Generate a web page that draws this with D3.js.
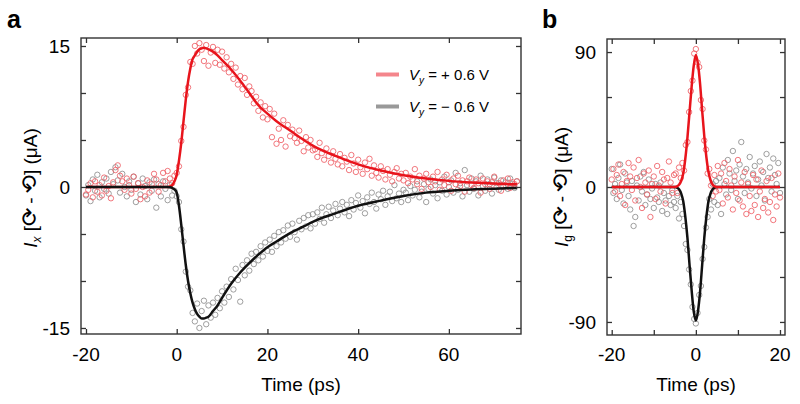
<!DOCTYPE html>
<html><head><meta charset="utf-8">
<script src="https://cdn.jsdelivr.net/npm/d3@7/dist/d3.min.js"></script>
<style>body{margin:0;background:#fff}svg{display:block}text{font-family:"Liberation Sans",Arial,sans-serif;fill:#000}</style>
</head><body><svg id="c" width="800" height="404"></svg>
<script>
// ---------- Panel a data ----------
const timeA = [-20,-19.5,-19,-18.5,-18,-17.5,-17,-16.5,-16,-15.5,-15,-14.5,-14,-13.5,-13,-12.5,-12,-11.5,-11,-10.5,-10,-9.5,-9,-8.5,-8,-7.5,-7,-6.5,-6,-5.5,-5,-4.5,-4,-3.5,-3,-2.5,-2,-1.5,-1,-0.5,
0,0.5,1,1.5,2,2.5,3,3.5,4,4.5,5,5.5,6,6.5,7,7.5,8,8.5,9,9.5,10,
10.5,11,11.5,12,12.5,13,13.5,14,14.5,15,15.5,16,16.5,17,17.5,18,18.5,19,19.5,20,20.5,21,21.5,22,22.5,23,23.5,24,24.5,25,25.5,26,26.5,27,27.5,28,28.5,29,29.5,30,
30.5,31,31.5,32,32.5,33,33.5,34,34.5,35,35.5,36,36.5,37,37.5,38,38.5,39,39.5,40,40.5,41,41.5,42,42.5,43,43.5,44,44.5,45,45.5,46,46.5,47,47.5,48,48.5,49,49.5,50,
50.5,51,51.5,52,52.5,53,53.5,54,54.5,55,55.5,56,56.5,57,57.5,58,58.5,59,59.5,60,60.5,61,61.5,62,62.5,63,63.5,64,64.5,65,65.5,66,66.5,67,67.5,68,68.5,69,69.5,70,70.5,71,71.5,72,72.5,73,73.5,74,74.5,75];
const redA = [-0.8,-0.3,0.4,-1.1,0.6,-0.5,0.2,-0.9,1.0,-0.4,0.1,-1.2,0.5,1.8,2.3,1.2,0.6,-0.3,0.9,0.2,-0.7,1.1,-0.2,0.4,-1.3,0.0,-1.0,0.7,-0.6,0.3,1.4,0.8,-0.5,0.2,1.5,0.6,1.7,0.9,0.4,1.2,
1.5,2.2,4.9,6.4,9.8,10.6,13.3,13.1,15.0,14.2,15.3,14.6,13.4,15.1,12.9,14.3,14.9,13.2,14.6,13.0,14.4,
12.6,13.8,12.2,13.1,11.5,12.7,10.9,11.8,10.4,11.6,9.8,10.7,10.2,8.9,9.6,8.1,9.0,7.4,8.6,7.2,8.3,5.3,7.8,4.6,6.2,5.0,7.1,4.3,6.6,5.4,6.1,5.2,4.7,6.0,4.9,3.8,5.3,4.2,5.0,3.9,
4.0,3.2,4.7,3.6,2.9,4.1,3.3,2.6,3.8,3.0,2.4,3.5,2.2,3.1,2.7,1.8,3.4,2.5,1.6,2.9,2.1,1.4,2.6,1.9,3.0,1.2,2.3,1.5,1.0,2.2,1.7,0.8,1.9,1.3,0.6,1.6,2.0,0.9,1.4,0.7,
1.5,0.4,1.1,0.8,1.9,0.3,1.2,-0.2,0.9,1.4,0.5,0.0,1.1,0.6,1.6,-0.3,0.8,0.2,1.3,0.5,-0.4,0.9,0.3,1.2,0.1,0.7,-0.5,0.6,1.0,0.2,-0.1,0.8,0.4,-0.6,0.9,0.3,0.6,-0.2,0.5,1.1,0.0,0.4,-0.4,0.7,0.2,0.9,-0.1,0.5,0.3,0.6];
const grayA = [-0.9,0.2,-1.5,0.8,-0.4,1.3,-1.1,0.5,-0.2,0.9,-0.7,1.6,0.3,2.1,0.7,-0.6,1.4,0.0,-1.0,0.6,-0.3,1.1,-1.6,0.4,-0.8,0.9,0.1,-1.3,0.5,-0.4,0.8,-2.2,0.3,-1.0,0.6,-0.2,-1.4,0.2,-0.9,-0.4,
-1.0,-1.6,-4.5,-5.8,-9.0,-10.6,-11.0,-13.4,-14.3,-12.4,-15.0,-13.2,-12.1,-14.6,-12.6,-13.9,-12.3,-13.6,-11.8,-12.9,-11.1,
-12.3,-10.6,-11.7,-9.8,-10.9,-8.7,-9.9,-12.2,-8.3,-9.4,-7.8,-8.9,-7.1,-8.2,-6.9,-7.8,-6.3,-7.4,-5.9,-6.8,-5.6,-6.9,-5.2,-6.3,-4.8,-5.9,-4.6,-5.5,-4.1,-5.3,-3.9,-4.8,-5.6,-3.6,-4.5,-3.3,-4.2,-3.0,-4.4,-2.9,
-3.9,-2.7,-3.4,-2.2,-3.8,-2.9,-2.1,-3.3,-2.5,-1.8,-3.0,-2.3,-1.6,-2.7,-1.9,-3.1,-1.4,-2.4,-1.7,-0.9,-2.2,-1.5,-2.8,-1.1,-1.8,-0.6,-1.6,-2.3,-0.8,-1.3,-0.4,-1.9,-1.0,-0.5,-1.5,0.2,-1.2,-0.7,-1.6,-0.3,
-0.6,-1.4,0.1,-0.9,-0.3,0.6,-1.1,-0.5,0.3,-1.6,-0.2,0.8,-0.7,0.2,-1.2,0.5,-0.4,1.1,-0.8,0.0,0.7,-0.6,1.5,-0.3,0.4,-1.0,1.8,0.2,-0.5,0.9,-0.2,0.6,-0.9,1.2,0.1,-0.4,0.8,0.3,-0.7,1.0,0.4,-0.3,0.7,0.0,0.5,-0.2,0.9,0.3,-0.1,0.6];
const fitTimeA = [-20,-2,-1.5,-1,-0.5,0,0.5,1,1.5,2,2.5,3,3.5,4,4.5,5,5.5,6,6.5,7,8,9,10,12,14,16,18,20,22,25,28,30,35,40,45,50,55,60,65,70,75];
const redFitA = [0,0,0.05,0.2,0.6,1.3,2.8,4.7,7.0,9.3,11.2,12.6,13.6,14.0,14.4,14.65,14.75,14.8,14.75,14.65,14.4,14.0,13.5,12.5,11.3,10.0,8.7,7.8,7.0,6.0,5.0,4.4,3.3,2.4,1.75,1.25,0.9,0.65,0.48,0.36,0.28];
const blackFitA = [0,0,-0.03,-0.1,-0.25,-0.6,-2.0,-4.0,-6.2,-8.3,-10.0,-11.3,-12.3,-13.0,-13.5,-13.8,-14.0,-14.0,-13.9,-13.8,-13.2,-12.6,-11.8,-10.3,-9.1,-8.1,-7.2,-6.4,-5.8,-4.9,-4.2,-3.7,-2.8,-2.0,-1.45,-0.95,-0.6,-0.4,-0.26,-0.18,-0.12];
const xTicksA = [-20,0,20,40,60];
const yTicksA = [-15,-10,-5,0,5,10,15];
const yLabelsA = [-15,0,15];

// ---------- Panel b data ----------
const timeB = [-20,-19.6,-19.2,-18.8,-18.4,-18,-17.6,-17.2,-16.8,-16.4,-16,-15.6,-15.2,-14.8,-14.4,-14,-13.6,-13.2,-12.8,-12.4,-12,-11.6,-11.2,-10.8,-10.4,-10,-9.6,-9.2,-8.8,-8.4,-8,-7.6,-7.2,-6.8,-6.4,-6,-5.6,-5.2,
-4.8,-4.4,-4,-3.6,-3.2,-2.8,-2.4,-2,-1.6,-1.2,-0.8,-0.4,0,0.4,0.8,1.2,1.6,2,2.4,2.8,3.2,3.6,4,4.4,4.8,
5.2,5.6,6,6.4,6.8,7.2,7.6,8,8.4,8.8,9.2,9.6,10,10.4,10.8,11.2,11.6,12,12.4,12.8,13.2,13.6,14,14.4,14.8,15.2,15.6,16,16.4,16.8,17.2,17.6,18,18.4,18.8,19.2,19.6,20];
const redB = [5,12,-3,8,15,-6,2,10,-12,4,16,7,-2,13,-9,6,18,0,-14,9,3,-5,11,-20,2,7,-8,14,1,-3,10,5,-11,6,17,3,-4,8,
9,-4,13,6,16,11,28,30,50,64,71,89,92,83,80,58,52,31,25,9,12,1,-6,8,-3,
14,-2,9,-11,16,4,-7,12,1,-15,7,-4,18,-9,3,-13,10,-18,2,-6,-16,8,-12,5,-20,-3,11,-14,-8,4,-17,-10,6,-22,-5,-13,9,-7];
const grayB = [12,-4,2,-8,6,15,-2,-11,9,3,-6,-15,4,-26,-20,1,-9,7,-3,10,-12,-5,5,-8,-1,-14,2,-7,-10,3,-16,-4,-9,-18,-6,-12,-2,-10,
-14,-6,-21,-10,-18,-26,-38,-42,-55,-65,-80,-88,-91,-84,-72,-66,-48,-40,-27,-20,-8,-15,2,-10,4,
-12,6,-18,13,2,-5,18,9,-2,24,4,11,-8,15,30,7,-4,12,3,20,-1,9,14,-6,5,17,1,10,-9,22,6,13,-3,19,8,2,16,-4];
const fitTimeB = [-20,-6,-5,-4.5,-4,-3.5,-3,-2.5,-2,-1.5,-1,-0.5,0,0.5,1,1.5,2,2.5,3,3.5,4,4.5,5,6,20];
const redFitB = [0,0,0.05,0.4,1.5,4,9,19,33,50,67,81,88,82,69,51,34,20,10,4.5,1.5,0.4,0.05,0,0];
const blackFitB = [0,0,-0.05,-0.4,-1.5,-4.2,-9.5,-20,-34,-52,-69,-83,-89,-83,-70,-52,-34,-20,-9.5,-4.2,-1.5,-0.4,-0.05,0,0];
const xTicksB = [-20,-10,0,10,20];
const xLabelsB = [-20,0,20];
const yTicksB = [-90,-60,-30,0,30,60,90];
const yLabelsB = [-90,0,90];

const legendLabels = ["+ 0.6 V", "\u2212 0.6 V"];

// ---------- styles ----------
const RED_LINE = "#e8141c", BLACK_LINE = "#111";
const RED_PT = "#ef5f66", GRAY_PT = "#8e8e8e";
const FS = 19;

const svg = d3.select("#c");

function panel(o) {
  const g = svg.append("g");
  const x = d3.scaleLinear().domain(o.xDom).range([o.x0, o.x1]);
  const y = d3.scaleLinear().domain(o.yDom).range([o.y1, o.y0]);
  const pts = g.append("g");
  o.time.forEach((t, i) => {
    pts.append("circle").attr("cx", x(t)).attr("cy", y(o.gray[i])).attr("r", 2.7)
      .attr("fill", "none").attr("stroke", GRAY_PT).attr("stroke-width", 1).attr("opacity", 0.85);
  });
  o.time.forEach((t, i) => {
    pts.append("circle").attr("cx", x(t)).attr("cy", y(o.red[i])).attr("r", 2.7)
      .attr("fill", "none").attr("stroke", RED_PT).attr("stroke-width", 1).attr("opacity", 0.85);
  });
  const line = vals => d3.line().curve(d3.curveMonotoneX)
    .x((d, i) => x(o.fitTime[i])).y(d => y(d))(vals);
  const order = o.redOnTop ? [[o.blackFit, BLACK_LINE], [o.redFit, RED_LINE]] : [[o.redFit, RED_LINE], [o.blackFit, BLACK_LINE]];
  order.forEach(([v, c]) => g.append("path").attr("d", line(v)).attr("fill", "none")
    .attr("stroke", c).attr("stroke-width", 2.5).attr("stroke-linejoin", "round"));
  g.append("rect").attr("x", o.x0).attr("y", o.y0).attr("width", o.x1 - o.x0).attr("height", o.y1 - o.y0)
    .attr("fill", "none").attr("stroke", "#333").attr("stroke-width", 1.4);
  const tl = 5;
  const style = s => { s.select(".domain").remove(); s.selectAll("line").attr("stroke", "#333").attr("stroke-width", 1.3); };
  g.append("g").attr("transform", `translate(0,${o.y1})`)
    .call(d3.axisTop(x).tickValues(o.xTicks).tickSize(tl).tickFormat("")).call(style);
  g.append("g").attr("transform", `translate(0,${o.y0})`)
    .call(d3.axisBottom(x).tickValues(o.xTicks).tickSize(tl).tickFormat("")).call(style);
  g.append("g").attr("transform", `translate(${o.x0},0)`)
    .call(d3.axisRight(y).tickValues(o.yTicks).tickSize(tl).tickFormat("")).call(style);
  g.append("g").attr("transform", `translate(${o.x1},0)`)
    .call(d3.axisLeft(y).tickValues(o.yTicks).tickSize(tl).tickFormat("")).call(style);
  o.xLabels.forEach(v => g.append("text").attr("x", x(v)).attr("y", 361).attr("text-anchor", "middle")
    .attr("font-size", FS).text(v));
  o.yLabels.forEach(v => g.append("text").attr("x", o.x0 - 11).attr("y", y(v) + 7).attr("text-anchor", "end")
    .attr("font-size", FS).text(v));
  g.append("text").attr("x", o.titleX).attr("y", 391).attr("text-anchor", "middle")
    .attr("font-size", FS).text("Time (ps)");
  const yt = g.append("text").attr("transform", `translate(${o.ylx},${o.yly}) rotate(-90)`)
    .attr("text-anchor", "middle").attr("font-size", FS);
  yt.append("tspan").attr("font-style", "italic").text("I");
  yt.append("tspan").attr("font-size", 12).attr("font-style", o.subItalic ? "italic" : "normal").attr("dy", 4).text(o.sub);
  yt.append("tspan").attr("dy", -4).text(" [");
  yt.append("tspan").attr("font-family", "DejaVu Sans").attr("font-size", 22).text("\u27F3");
  yt.append("tspan").text("\u2009-\u2009");
  yt.append("tspan").attr("font-family", "DejaVu Sans").attr("font-size", 22).text("\u27F2");
  yt.append("tspan").text("] (\u03BCA)");
  g.append("text").attr("x", o.letterX).attr("y", 28).attr("font-size", 25).attr("font-weight", "bold").text(o.letter);
  return {x, y};
}

panel({
  x0: 81, x1: 521, y0: 38, y1: 334, xDom: [-21.1, 75.9], yDom: [-15.64, 15.85],
  time: timeA, red: redA, gray: grayA, fitTime: fitTimeA, redFit: redFitA, blackFit: blackFitA,
  xTicks: xTicksA, xLabels: xTicksA, yTicks: yTicksA, yLabels: yLabelsA, redOnTop: false,
  titleX: 301, ylx: 37, yly: 188, sub: "x", subItalic: true, letter: "a", letterX: 7
});
panel({
  x0: 607, x1: 785, y0: 39, y1: 335, xDom: [-21.12, 21.19], yDom: [-98.7, 98.7],
  time: timeB, red: redB, gray: grayB, fitTime: fitTimeB, redFit: redFitB, blackFit: blackFitB,
  xTicks: xTicksB, xLabels: xLabelsB, yTicks: yTicksB, yLabels: yLabelsB, redOnTop: true,
  titleX: 696, ylx: 568, yly: 187, sub: "g", subItalic: false, letter: "b", letterX: 542
});

const leg = svg.append("g");
[["#f4868c", 74.5, legendLabels[0]], ["#999999", 106.5, legendLabels[1]]].forEach(([c, ly, lab]) => {
  leg.append("line").attr("x1", 376).attr("x2", 399).attr("y1", ly).attr("y2", ly)
    .attr("stroke", c).attr("stroke-width", 4);
  const t = leg.append("text").attr("x", 409).attr("y", ly + 5).attr("font-size", 15);
  t.append("tspan").attr("font-style", "italic").text("V");
  t.append("tspan").attr("font-style", "italic").attr("font-size", 10).attr("dy", 4).text("y");
  t.append("tspan").attr("dy", -4).text(" = " + lab);
});
</script></body></html>
